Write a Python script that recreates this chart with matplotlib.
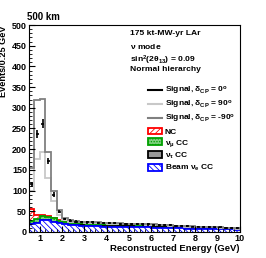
import numpy as np
import matplotlib
matplotlib.use("Agg")
import matplotlib.pyplot as plt
from matplotlib.patches import Patch
from matplotlib.lines import Line2D
from matplotlib.ticker import MultipleLocator

plt.rcParams["font.family"] = ["Liberation Sans", "DejaVu Sans"]
plt.rcParams["font.weight"] = "bold"
plt.rcParams["mathtext.fontset"] = "custom"
plt.rcParams["mathtext.rm"] = "Liberation Sans:bold"
plt.rcParams["mathtext.it"] = "Liberation Sans:bold"
plt.rcParams["mathtext.bf"] = "Liberation Sans:bold"
plt.rcParams["hatch.linewidth"] = 0.6

# bins: 0.25 GeV from 0.5 to 10 GeV
edges = np.arange(0.5, 10.001, 0.25)

# signal histograms (total, including background)
sig_dcp0 = [115, 237, 262, 172, 90, 49, 31, 27, 25, 24,
            23, 23, 22, 22, 21, 21, 20, 20, 19, 19,
            18, 18, 17, 17, 16, 16, 15, 14, 14, 13,
            13, 12, 12, 11, 11, 10, 9, 9]
sig_dcp90 = [100, 176, 192, 130, 75, 42, 28, 25, 24, 23,
             22, 22, 21, 21, 20, 20, 19, 19, 19, 18,
             18, 17, 17, 16, 16, 15, 14, 14, 13, 13,
             12, 12, 11, 11, 10, 10, 9, 8]
sig_dcpm90 = [155, 318, 321, 192, 98, 53, 33, 28, 26, 25,
              24, 23, 23, 22, 22, 21, 21, 20, 20, 19,
              19, 18, 18, 17, 17, 16, 15, 15, 14, 14,
              13, 12, 12, 11, 11, 10, 9, 9]

# backgrounds (per component)
bkg_nc = [29, 8, 2, 1.5, 1, 1] + [0.5] * 32
bkg_numu = [8, 10, 10, 9, 8, 6, 5, 4, 4, 4,
            4, 4, 4, 4, 4, 4, 4, 4, 4, 4,
            4, 3, 3, 3, 3, 3, 3, 3, 3, 2,
            2, 2, 2, 2, 2, 1, 1, 1]
bkg_nutau = [0, 0, 0, 0, 0, 0, 0.5, 0.5, 1, 1] + [1.5] * 20 + [1] * 8
bkg_beamnue = [18, 22, 28, 28, 25, 21, 19, 17, 16, 15,
               14, 14, 14, 13, 13, 13, 12, 12, 12, 11,
               11, 11, 10, 10, 10, 9, 9, 9, 8, 8,
               8, 7, 7, 7, 6, 6, 6, 5]

fig = plt.figure(figsize=(2.66, 2.58), dpi=100)
ax = fig.add_axes([0.108, 0.101, 0.794, 0.802])

# stacked backgrounds (drawn as cumulative totals, largest first)
c_beam = np.array(bkg_beamnue, dtype=float)
c_tau = c_beam + np.array(bkg_nutau)
c_numu = c_tau + np.array(bkg_numu)
c_nc = c_numu + np.array(bkg_nc)

layers = [
    (c_nc, "#ff0000", "white", "//////"),
    (c_numu, "#00a000", "#80d080", "......"),
    (c_tau, "#000000", "#999999", None),
    (c_beam, "#0000ff", "white", "\\\\\\\\\\\\"),
]
for tot, ec, fc, hatch in layers:
    ax.stairs(tot, edges, baseline=0, fill=True, facecolor=fc,
              edgecolor=ec if hatch else fc, hatch=hatch, linewidth=0)
    ax.stairs(tot, edges, baseline=None, color=ec, linewidth=1.3)

# signals
ax.stairs(sig_dcp90, edges, baseline=None, color="#c8c8c8", linewidth=1.3)
ax.stairs(sig_dcpm90, edges, baseline=None, color="#808080", linewidth=1.3)
centers = 0.5 * (edges[:-1] + edges[1:])
ax.errorbar(centers, sig_dcp0, yerr=0.6 * np.sqrt(sig_dcp0), xerr=0.07,
            fmt="none", ecolor="black", elinewidth=1.2, capsize=0)

ax.set_xlim(0.5, 10)
ax.set_ylim(0, 500)
ax.xaxis.set_major_locator(MultipleLocator(1))
ax.xaxis.set_minor_locator(MultipleLocator(0.25))
ax.yaxis.set_major_locator(MultipleLocator(50))
ax.yaxis.set_minor_locator(MultipleLocator(10))
ax.tick_params(which="both", direction="in", labelsize=6.5, pad=1.2)
ax.tick_params(which="major", length=4, width=0.8)
ax.tick_params(which="minor", length=2, width=0.6)
ax.set_xticks(np.arange(1, 11))
for lab in ax.get_xticklabels() + ax.get_yticklabels():
    lab.set_fontweight("bold")
for s in ax.spines.values():
    s.set_linewidth(0.8)

ax.set_xlabel("Reconstructed Energy (GeV)", fontsize=6.8, fontweight="bold",
              ha="right", x=1.0, labelpad=1)
ax.set_ylabel("Events/0.25 GeV", fontsize=6.6, fontweight="bold", ha="right")
ax.yaxis.set_label_coords(-0.098, 1.0)

fig.text(0.103, 0.915, "500 km", fontsize=7, fontweight="bold", ha="left", va="bottom")

tx = 0.48
info = ["175 kt-MW-yr LAr", r"$\nu$ mode", r"sin$^2$(2$\theta_{13}$) = 0.09", "Normal hierarchy"]
info_y = [0.975, 0.919, 0.863, 0.800]
for s, yy in zip(info, info_y):
    ax.text(tx, yy, s, transform=ax.transAxes, fontsize=6.1,
            fontweight="bold", va="top", ha="left")

handles = [
    Line2D([], [], color="black", lw=1.5),
    Line2D([], [], color="#c8c8c8", lw=1.5),
    Line2D([], [], color="#808080", lw=1.5),
    Patch(facecolor="white", edgecolor="#ff0000", hatch="//////", lw=1.3),
    Patch(facecolor="#80d080", edgecolor="#00a000", hatch="......", lw=1.3),
    Patch(facecolor="#999999", edgecolor="black", lw=1.3),
    Patch(facecolor="white", edgecolor="#0000ff", hatch="\\\\\\\\\\\\", lw=1.3),
]
labels = [
    r"Signal, $\delta_{CP}$ = 0$^o$",
    r"Signal, $\delta_{CP}$ = 90$^o$",
    r"Signal, $\delta_{CP}$ = -90$^o$",
    "NC",
    r"$\nu_\mu$ CC",
    r"$\nu_\tau$ CC",
    r"Beam $\nu_e$ CC",
]
leg = ax.legend(handles, labels, loc="upper left", bbox_to_anchor=(0.55, 0.725),
                frameon=False, fontsize=6, handlelength=1.6, handleheight=0.9,
                handletextpad=0.4, labelspacing=0.25, borderaxespad=0)
for t in leg.get_texts():
    t.set_fontweight("bold")

fig.savefig("out.png", dpi=100)
